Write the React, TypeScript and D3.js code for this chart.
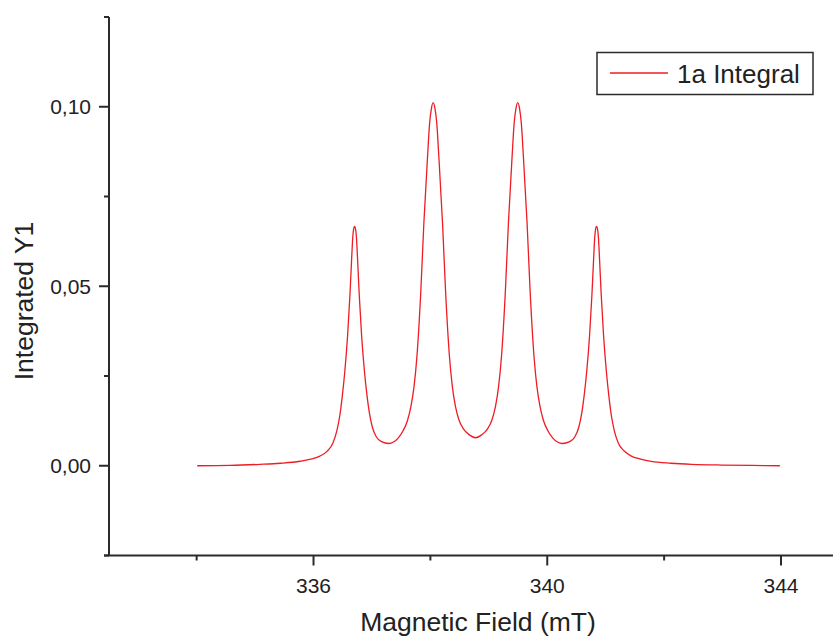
import React from 'react';
import * as d3 from 'd3';

// Magnetic field (mT) and integrated intensity
const fieldMT = [
  334.01, 334.57, 335.08, 335.43, 335.77, 335.97, 336.11, 336.23, 336.33, 336.40,
  336.45, 336.491, 336.535, 336.583, 336.623, 336.652, 336.671, 336.686, 336.703, 336.720,
  336.735, 336.754, 336.783, 336.823, 336.871, 336.915, 336.956, 337.006, 337.076, 337.163,
  337.29, 337.368, 337.448, 337.528, 337.608, 337.668, 337.721, 337.769, 337.837, 337.888,
  337.951, 337.986, 338.017, 338.048, 338.079, 338.110, 338.145, 338.208, 338.259, 338.327,
  338.375, 338.428, 338.488, 338.568, 338.668, 338.773, 338.878, 338.975, 339.055, 339.115,
  339.168, 339.216, 339.284, 339.335, 339.398, 339.433, 339.464, 339.495, 339.526, 339.557,
  339.592, 339.655, 339.706, 339.774, 339.822, 339.875, 339.935, 340.015, 340.095, 340.175,
  340.257, 340.384, 340.471, 340.541, 340.591, 340.632, 340.676, 340.724, 340.764, 340.793,
  340.812, 340.827, 340.844, 340.861, 340.876, 340.895, 340.924, 340.964, 341.012, 341.056,
  341.097, 341.147, 341.217, 341.317, 341.44, 341.58, 341.78, 342.12, 342.47, 342.98,
  343.50, 343.98,
];
const integratedY1 = [
  0.0000, 0.0001, 0.0004, 0.0007, 0.00125, 0.0019, 0.0027, 0.0040, 0.0063, 0.0098,
  0.0140, 0.0192, 0.0262, 0.0362, 0.0475, 0.0575, 0.0635, 0.0659, 0.0667, 0.0659,
  0.0635, 0.0575, 0.0475, 0.0362, 0.0264, 0.0196, 0.0147, 0.0108, 0.0080, 0.0067,
  0.0062, 0.0066, 0.0077, 0.0096, 0.0126, 0.0166, 0.0222, 0.0303, 0.0489, 0.0675,
  0.0860, 0.0953, 0.0995, 0.10117, 0.0995, 0.0953, 0.0860, 0.0675, 0.0489, 0.0303,
  0.0222, 0.0166, 0.0128, 0.0102, 0.0086, 0.0078, 0.0086, 0.0102, 0.0128, 0.0166,
  0.0222, 0.0303, 0.0489, 0.0675, 0.0860, 0.0953, 0.0995, 0.10117, 0.0995, 0.0953,
  0.0860, 0.0675, 0.0489, 0.0303, 0.0222, 0.0166, 0.0126, 0.0096, 0.0077, 0.0066,
  0.0062, 0.0067, 0.0080, 0.0108, 0.0147, 0.0196, 0.0264, 0.0362, 0.0475, 0.0575,
  0.0635, 0.0659, 0.0667, 0.0659, 0.0635, 0.0575, 0.0475, 0.0362, 0.0262, 0.0192,
  0.0140, 0.0098, 0.0063, 0.0041, 0.0027, 0.0019, 0.0012, 0.0007, 0.0004, 0.0002,
  0.0001, 0.0000,
];

const xMajorTicks = [336, 340, 344];
const xMinorTicks = [334, 338, 342];
const yMajorTicks = [0, 0.05, 0.1];
const yMinorTicks = [-0.025, 0.025, 0.075, 0.125];

const seriesName = '1a Integral';
const xTitle = 'Magnetic Field (mT)';
const yTitle = 'Integrated Y1';

const W = 833;
const H = 637;
const FONT = '"Liberation Sans", Arial, Helvetica, sans-serif';
const AXIS = '#2b2b2b';
const TEXT = '#222';
const RED = '#ee1c24';

export default function App() {
  const x = d3.scaleLinear().domain([332.5, 344.89]).range([109, 833]);
  const y = d3.scaleLinear().domain([-0.025, 0.125]).range([555.5, 17]);

  const pts = fieldMT.map((f, i) => [f, integratedY1[i]] as [number, number]);
  const line = d3
    .line<[number, number]>()
    .x((d) => x(d[0]))
    .y((d) => y(d[1]))
    .curve(d3.curveMonotoneX);

  const fmtY = (v: number) => d3.format('.2f')(v).replace('.', ',');
  const x0 = x.range()[0];
  const y0 = y.range()[0];

  return (
    <svg
      width={W}
      height={H}
      style={{ position: 'absolute', left: 0, top: 0, background: '#fff' }}
      fontFamily={FONT}
    >
      <rect x={0} y={0} width={W} height={H} fill="#fff" />
      {/* data */}
      <path d={line(pts) || ''} fill="none" stroke={RED} strokeWidth={1.3} />

      {/* y axis */}
      <line x1={x0} x2={x0} y1={y(0.125)} y2={y0} stroke={AXIS} strokeWidth={2} />
      {yMajorTicks.map((t) => (
        <g key={'ym' + t}>
          <line x1={x0 - 10} x2={x0} y1={y(t)} y2={y(t)} stroke={AXIS} strokeWidth={2} />
          <text
            x={x0 - 18}
            y={y(t)}
            dy="0.35em"
            textAnchor="end"
            fontSize={21}
            fill={TEXT}
          >
            {fmtY(t)}
          </text>
        </g>
      ))}
      {yMinorTicks.map((t) => (
        <line key={'yn' + t} x1={x0 - 5} x2={x0} y1={y(t)} y2={y(t)} stroke={AXIS} strokeWidth={2} />
      ))}

      {/* x axis */}
      <line x1={x0 - 5} x2={W} y1={y0} y2={y0} stroke={AXIS} strokeWidth={2} />
      {xMajorTicks.map((t) => (
        <g key={'xm' + t}>
          <line x1={x(t)} x2={x(t)} y1={y0} y2={y0 + 10} stroke={AXIS} strokeWidth={2} />
          <text x={x(t)} y={y0 + 37} textAnchor="middle" fontSize={21} fill={TEXT}>
            {t}
          </text>
        </g>
      ))}
      {xMinorTicks.map((t) => (
        <line key={'xn' + t} x1={x(t)} x2={x(t)} y1={y0} y2={y0 + 5} stroke={AXIS} strokeWidth={2} />
      ))}

      {/* titles */}
      <text x={478} y={631} textAnchor="middle" fontSize={26.5} fill={TEXT}>
        {xTitle}
      </text>
      <text
        transform={`translate(33,${301}) rotate(-90)`}
        textAnchor="middle"
        fontSize={26.5}
        fill={TEXT}
      >
        {yTitle}
      </text>

      {/* legend */}
      <rect x={597} y={52.5} width={216} height={42} fill="#fff" stroke={AXIS} strokeWidth={1.5} />
      <line x1={610} x2={668} y1={73} y2={73} stroke={RED} strokeWidth={1.3} />
      <text x={677} y={83} fontSize={26} fill={TEXT}>
        {seriesName}
      </text>
    </svg>
  );
}
